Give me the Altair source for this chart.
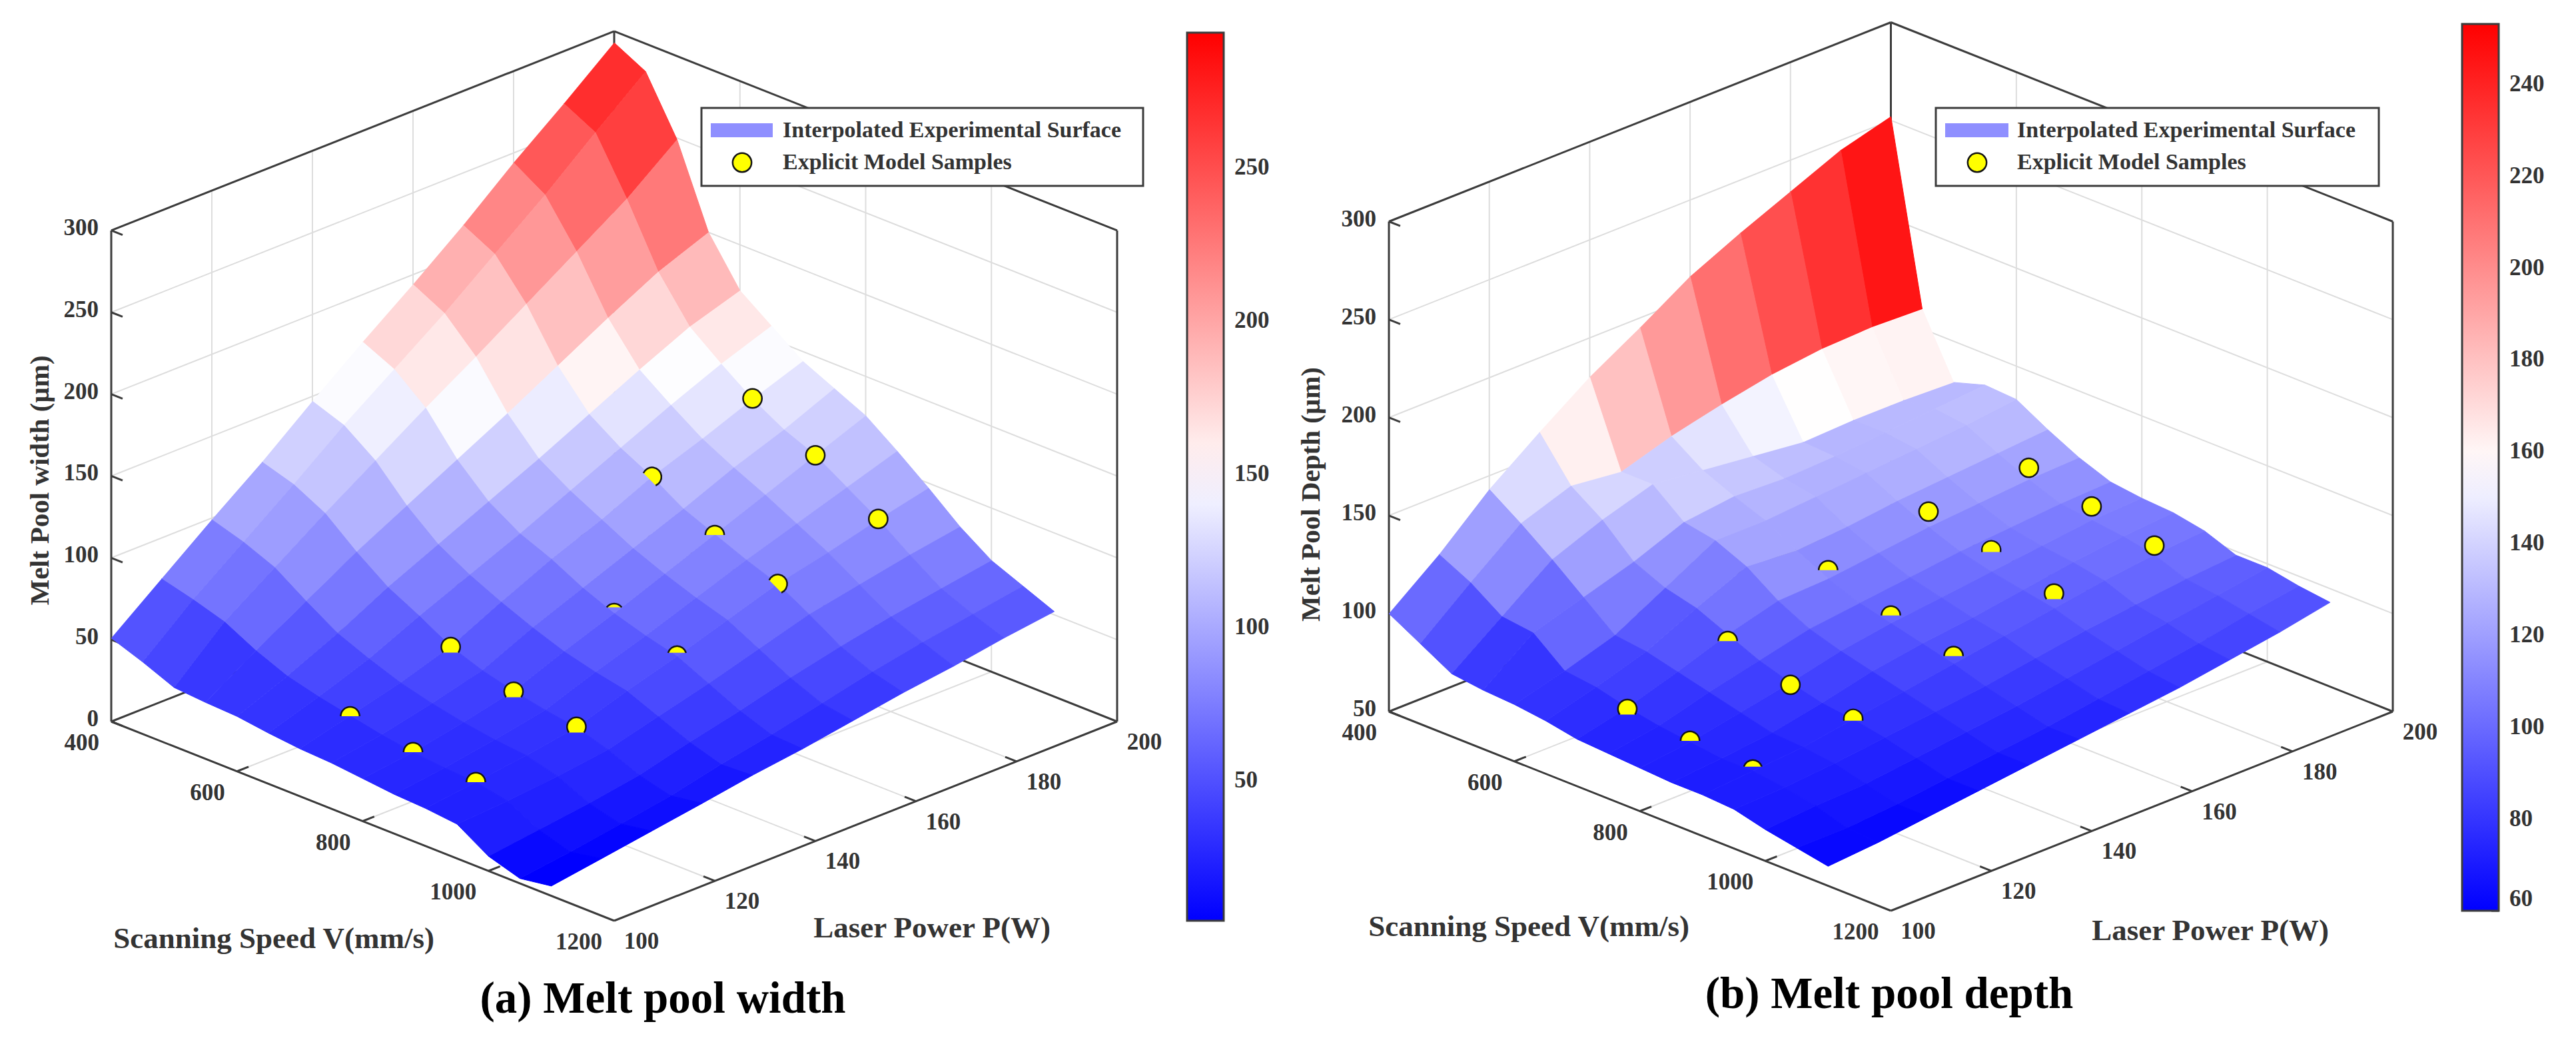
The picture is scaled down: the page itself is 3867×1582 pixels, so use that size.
import altair as alt
import pandas as pd

speeds = [400, 450, 500, 550, 600, 650, 700, 750, 800, 850, 900, 950, 1000, 1050, 1100]
powers = [100, 110, 120, 130, 140, 150, 160, 170, 180, 190, 200]

# rows run from P=100 to P=200, columns from V=400 to V=1100
width_z = [
    [51, 44, 36, 34.5, 33.6, 31, 29, 28, 26, 24, 23, 21, 9, 3, 6],
    [75, 70, 64, 54, 46, 41, 37, 33, 30, 28, 27, 23, 13, 7, 10.6],
    [99, 93, 85, 72, 60, 52, 45, 40, 36, 33, 31, 26, 17, 12, 15.3],
    [122, 116, 106, 90, 76, 66, 55, 48, 43, 39, 36, 30, 22, 17, 20],
    [147, 140, 126, 106, 90, 79, 70, 62, 55, 50, 46, 38, 30, 24, 25],
    [171, 162, 146, 122, 104, 92, 84, 74, 66, 60, 55, 46, 37, 30, 29],
    [194, 184, 165, 138, 118, 106, 96, 86, 78, 71, 65, 55, 45, 37, 34],
    [218, 208, 185, 155, 133, 120, 110, 98, 90, 82, 75, 64, 52, 44, 39],
    [244, 232, 205, 172, 148, 134, 121, 111, 102, 92, 82, 70, 58, 50, 43],
    [268, 258, 225, 188, 162, 147, 133, 122, 114, 102, 90, 76, 63, 55, 48],
    [293, 283, 249, 200, 172, 158, 144, 135, 126, 112, 97, 81, 68, 60, 52],
]
depth_z = [
    [100, 91, 82, 80, 79, 77, 74, 73, 72, 71, 71, 70, 66, 63, 60],
    [120, 112, 101, 99, 86, 84, 80, 77, 75, 73, 73, 71, 68, 63, 62],
    [143, 132, 120, 107, 94, 92, 88, 84, 80, 76, 75, 73, 69, 65, 65],
    [162, 141, 130, 115, 108, 104, 97, 90, 85, 81, 79, 76, 72, 68, 68],
    [180, 138, 138, 125, 122, 115, 104, 96, 91, 87, 83, 79, 75, 71, 71],
    [195, 146, 135, 128, 122, 113, 105, 99, 95, 91, 87, 82, 78, 74, 74],
    [211, 152, 132, 127, 124, 115, 108, 102, 98, 94, 91, 86, 82, 78, 77],
    [223, 157, 129, 128, 126, 118, 111, 105, 101, 98, 95, 90, 86, 82, 80],
    [234, 160, 130, 130, 128, 120, 113, 107, 104, 102, 99, 93, 90, 86, 84],
    [245, 161, 130, 132, 130, 122, 115, 109, 107, 105, 102, 96, 94, 91, 88],
    [252, 160, 129, 134, 133, 124, 116, 110, 108, 107, 104, 98, 98, 95, 93],
]

sample_v = [700, 800, 900] * 5
sample_p = [110] * 3 + [130] * 3 + [150] * 3 + [170] * 3 + [190] * 3
width_samples = [36.7, 30, 26.9, 54.7, 42.6, 36.3, 80, 66.3, 55.5, 109.8, 89.6, 74.8, 133.5, 114, 90.3]
depth_samples = [79.3, 75.7, 73.8, 93.6, 84, 79.3, 109.4, 99, 91, 119, 112, 102.6, 121, 114, 106.7]
width_visible = ["top50", "top50", "top50", "top80", "top80", "top80", "hidden", "sliver", "top35", "tilt", "top50", "tilt", "full", "full", "full"]
depth_visible = ["top80", "top50", "top35", "top50", "full", "top60", "top50", "top50", "top50", "full", "top60", "top80", "full", "full", "full"]

speed_ticks = [400, 600, 800, 1000, 1200]
power_ticks = [100, 120, 140, 160, 180, 200]
width_ticks = [0, 50, 100, 150, 200, 250, 300]
depth_ticks = [50, 100, 150, 200, 250, 300]
width_bar_ticks = [50, 100, 150, 200, 250]
depth_bar_ticks = [60, 80, 100, 120, 140, 160, 180, 200, 220, 240]

SERIF = "Liberation Serif"
DARK = "#3c3c3c"
GRID = "#dddddd"
SHAPES = {
    "full": "M -1 0 A 1 1 0 1 1 1 0 A 1 1 0 1 1 -1 0 Z",
    "top80": "M -0.8 0.6 A 1 1 0 1 1 0.8 0.6",
    "top60": "M -0.98 0.2 A 1 1 0 1 1 0.98 0.2",
    "top50": "M -1 0 A 1 1 0 1 1 1 0",
    "top35": "M -0.954 -0.3 A 1 1 0 0 1 0.954 -0.3",
    "sliver": "M -0.8 -0.6 A 1 1 0 0 1 0.8 -0.6",
    "tilt": "M -0.9 -0.43 A 1 1 0 1 1 0.4 0.9",
}


def bwr_hex(v, lo, mid, hi):
    if v <= mid:
        t = int(round(255 * max(0, (v - lo) / (mid - lo))))
        return f"#{t:02x}{t:02x}ff"
    t = int(round(255 * max(0, (hi - v) / (hi - mid))))
    return f"#ff{t:02x}{t:02x}"


def panel(cfg):
    def proj(v, p, z):
        x = cfg["ox"] + cfg["dx"] * (v - 400) / 800 + cfg["dx"] * (p - 100) / 100
        y = cfg["oy"] + 299 * (v - 400) / 800 - 299 * (p - 100) / 100 - cfg["zs"] * (z - cfg["z0"])
        return x, y

    xs = alt.Scale(domain=cfg["xdom"], nice=False, zero=False)
    ys = alt.Scale(domain=[1568, 8], nice=False, zero=False)
    X = alt.X("x:Q", scale=xs, axis=None)
    Y = alt.Y("y:Q", scale=ys, axis=None)

    def segs(pairs):
        rows = []
        for i, (a, b) in enumerate(pairs):
            rows.append({"x": a[0], "y": a[1], "id": i, "o": 0})
            rows.append({"x": b[0], "y": b[1], "id": i, "o": 1})
        return pd.DataFrame(rows)

    def lines(pairs, color, width):
        return alt.Chart(segs(pairs)).mark_line(color=color, strokeWidth=width).encode(
            x=X, y=Y, detail="id:N", order="o:Q")

    z0, z1 = cfg["z0"], 300
    grid = []
    for z in cfg["zticks"]:
        if z not in (z0, z1):
            grid.append((proj(400, 100, z), proj(400, 200, z)))
            grid.append((proj(400, 200, z), proj(1200, 200, z)))
    for p in power_ticks[1:-1]:
        grid.append((proj(400, p, z0), proj(400, p, z1)))
        grid.append((proj(400, p, z0), proj(1200, p, z0)))
    for v in speed_ticks[1:-1]:
        grid.append((proj(v, 200, z0), proj(v, 200, z1)))
        grid.append((proj(v, 100, z0), proj(v, 200, z0)))

    box = [
        (proj(400, 100, z0), proj(400, 100, z1)),
        (proj(400, 100, z1), proj(400, 200, z1)),
        (proj(400, 200, z1), proj(1200, 200, z1)),
        (proj(1200, 200, z0), proj(1200, 200, z1)),
        (proj(400, 200, z0), proj(400, 200, z1)),
        (proj(400, 100, z0), proj(1200, 100, z0)),
        (proj(1200, 100, z0), proj(1200, 200, z0)),
        (proj(400, 100, z0), proj(400, 200, z0)),
        (proj(400, 200, z0), proj(1200, 200, z0)),
    ]
    ticks = []
    for z in cfg["zticks"]:
        ticks.append((proj(400, 100, z), proj(418, 100, z)))
    for v in speed_ticks[1:-1]:
        ticks.append((proj(v, 100, z0), proj(v, 102.3, z0)))
    for p in power_ticks[1:-1]:
        ticks.append((proj(1200, p, z0), proj(1182, p, z0)))

    # surface quads, back to front, coloured by their first corner
    bmin, bmid, bmax = cfg["bar"]
    rows = []
    cells = [(k, j) for k in range(len(speeds) - 1) for j in range(len(powers) - 1)]
    cells.sort(key=lambda c: c[0] - c[1])
    Z = cfg["surface"]
    for n, (k, j) in enumerate(cells):
        corners = [(k, j), (k + 1, j), (k + 1, j + 1), (k, j + 1)]
        edge = bwr_hex(Z[j][k], bmin, bmid, bmax)
        for o, (a, b) in enumerate(corners):
            x, y = proj(speeds[a], powers[b], Z[b][a])
            rows.append({"x": x, "y": y, "cell": n, "o": o, "c": Z[j][k], "edge": edge})
    cscale = alt.Scale(domain=[bmin, bmax], domainMid=bmid, range=["#0000ff", "#ffffff", "#ff0000"], interpolate="rgb")
    surf = alt.Chart(pd.DataFrame(rows)).mark_line(strokeWidth=1, strokeJoin="round").encode(
        x=X, y=Y, detail="cell:N", order="o:Q",
        fill=alt.Fill("c:Q", scale=cscale, legend=alt.Legend(
            type="gradient", title=None, orient="none", legendX=cfg["barx"], legendY=cfg["bartop"] - 8,
            direction="vertical", gradientLength=cfg["barlen"], gradientThickness=55,
            gradientStrokeColor=DARK, gradientStrokeWidth=3, values=cfg["barticks"],
            labelFont=SERIF, labelFontSize=35, labelFontWeight="bold", labelColor="#333333",
            labelOffset=16, labelOverlap=False)),
        stroke=alt.Stroke("edge:N", scale=None),
    )

    names = list(SHAPES)
    sh = alt.Shape("vis:N", scale=alt.Scale(domain=names, range=[SHAPES[n] for n in names]), legend=None)
    srows = []
    for v, p, z, vis in zip(sample_v, sample_p, cfg["samples"], cfg["visible"]):
        if vis != "hidden":
            x, y = proj(v, p, z)
            srows.append({"x": x, "y": y, "vis": vis})
    lx0, lx1, ly0, ly1 = cfg["lbox"]
    srows.append({"x": cfg["lmark"], "y": 244, "vis": "full"})
    points_d = pd.DataFrame(srows)
    samples = alt.Chart(points_d.iloc[:-1]).mark_point(
        filled=False, fill="#ffff00", fillOpacity=1, stroke="#141414", strokeWidth=2.5, size=800, opacity=1
    ).encode(x=X, y=Y, shape=sh)
    lframe = alt.Chart(pd.DataFrame([{"x": lx0, "x2": lx1, "y": ly0, "y2": ly1}])).mark_rect(
        fill="white", stroke=DARK, strokeWidth=3).encode(x=X, x2="x2:Q", y=Y, y2="y2:Q")
    lswatch = alt.Chart(pd.DataFrame([{"x": cfg["lsw"][0], "x2": cfg["lsw"][1], "y": 185, "y2": 206}])).mark_rect(
        fill="#8f8fff").encode(x=X, x2="x2:Q", y=Y, y2="y2:Q")
    lpoint = alt.Chart(points_d.iloc[-1:]).mark_point(
        filled=False, fill="#ffff00", fillOpacity=1, stroke="#141414", strokeWidth=2.5, size=800, opacity=1
    ).encode(x=X, y=Y, shape=sh)

    def text(rows_, size, align="center", angle=None, color="#333333", weight="bold"):
        kw = {"angle": angle} if angle is not None else {}
        return alt.Chart(pd.DataFrame(rows_)).mark_text(
            font=SERIF, fontSize=size, fontWeight=weight, align=align, baseline="middle", color=color, **kw
        ).encode(x=X, y=Y, text="t:N")

    ztxt = []
    for z in cfg["zticks"]:
        x, y = proj(400, 100, z)
        ztxt.append({"x": x - 19, "y": y - 4, "t": str(z)})
    vtxt = []
    for v in speed_ticks:
        x, y = proj(v, 100, z0)
        vtxt.append({"x": x - 18, "y": y + 32, "t": str(v)})
    ptxt = []
    for p in power_ticks:
        x, y = proj(1200, p, z0)
        ptxt.append({"x": x + 41, "y": y + 31, "t": str(p)})

    barticks = []
    for v in cfg["barticks"]:
        y = cfg["bartop"] + (bmax - v) / (bmax - bmin) * cfg["barlen"]
        bx = cfg["xdom"][0] + cfg["barx"] + 55
        barticks.append(((bx - 11, y), (bx, y)))

    a = cfg["atitles"]
    return alt.layer(
        lines(grid, GRID, 2),
        lines(box, DARK, 3),
        lines(ticks, DARK, 3),
        surf,
        samples,
        lframe,
        lswatch,
        lpoint,
        lines(barticks, DARK, 3),
        text(ztxt, 35, "right"),
        text(vtxt, 35, "right"),
        text(ptxt, 35),
        text([{"x": a["ylab"][0], "y": a["ylab"][1], "t": cfg["ylabel"]}], 41, angle=270),
        text([{"x": a["vlab"][0], "y": a["vlab"][1], "t": "Scanning Speed V(mm/s)"}], 45),
        text([{"x": a["plab"][0], "y": a["plab"][1], "t": "Laser Power P(W)"}], 45),
        text([{"x": cfg["ltext"], "y": 196, "t": "Interpolated Experimental Surface"},
              {"x": cfg["ltext"], "y": 244, "t": "Explicit Model Samples"}], 34, "left"),
        text([{"x": a["title"][0], "y": a["title"][1], "t": cfg["title"]}], 67, color="#000000"),
    ).properties(width=cfg["xdom"][1] - cfg["xdom"][0], height=1560)


left = panel(dict(
    ox=167, oy=1083, dx=755, zs=2.457, z0=0, zticks=width_ticks, surface=width_z,
    samples=width_samples, visible=width_visible, bar=(4, 149, 294), barticks=width_bar_ticks,
    xdom=[8, 1944], barx=1774, bartop=49, barlen=1333, ylabel="Melt Pool width (μm)",
    title="(a) Melt pool width", lbox=(1053, 1716, 162, 279), lsw=(1067, 1160), lmark=1114, ltext=1175,
    atitles=dict(ylab=(61, 721), vlab=(411, 1409), plab=(1399, 1393), title=(995, 1500)),
))
right = panel(dict(
    ox=2085, oy=1068, dx=753.5, zs=2.942, z0=50, zticks=depth_ticks, surface=depth_z,
    samples=depth_samples, visible=depth_visible, bar=(60, 156.5, 253), barticks=depth_bar_ticks,
    xdom=[1944, 3859], barx=1752, bartop=36, barlen=1331, ylabel="Melt Pool Depth (μm)",
    title="(b) Melt pool depth", lbox=(2906, 3571, 162, 279), lsw=(2920, 3015), lmark=2968, ltext=3028,
    atitles=dict(ylab=(1969, 742), vlab=(2295, 1391), plab=(3318, 1397), title=(2836, 1493)),
))

chart = alt.hconcat(left, right, spacing=0).resolve_scale(fill="independent").properties(
    padding=0, background="white"
).configure_view(stroke=None)

chart.save("out.html", embed_options={"renderer": "svg", "actions": False})
